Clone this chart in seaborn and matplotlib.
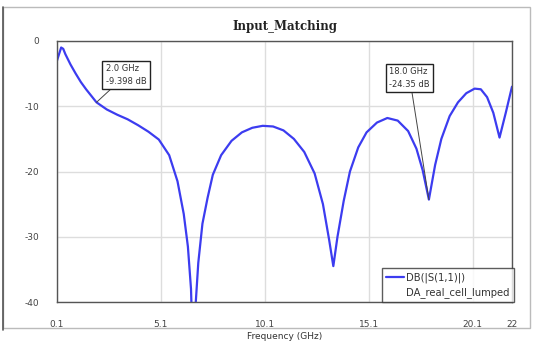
import numpy as np
import pandas as pd
import matplotlib
matplotlib.use("Agg")
import matplotlib.pyplot as plt
import seaborn as sns
from matplotlib.lines import Line2D
from matplotlib.patches import Rectangle

# ---- data ----
freq_ghz = [0.1, 0.2, 0.3, 0.4, 0.5, 0.75, 1.0, 1.25, 1.5, 1.75, 2.0, 2.5, 3.0, 3.5,
            4.0, 4.5, 5.0, 5.5, 5.9, 6.2, 6.4, 6.55, 6.66, 6.78, 6.9, 7.1, 7.35, 7.6,
            8.0, 8.5, 9.0, 9.5, 10.0, 10.5, 11.0, 11.5, 12.0, 12.5, 12.9, 13.2, 13.4,
            13.6, 13.9, 14.2, 14.6, 15.0, 15.5, 16.0, 16.5, 17.0, 17.4, 17.7, 18.0,
            18.3, 18.6, 19.0, 19.4, 19.8, 20.2, 20.5, 20.8, 21.1, 21.4, 21.7, 22.0]
s11_db = [-3.0, -2.0, -1.0, -1.2, -2.0, -3.6, -5.0, -6.3, -7.4, -8.4, -9.4, -10.5,
          -11.3, -12.0, -12.9, -13.9, -15.1, -17.5, -21.5, -26.5, -31.5, -38.0, -50.0,
          -40.0, -34.0, -28.0, -24.0, -20.5, -17.5, -15.3, -14.0, -13.3, -13.0, -13.1,
          -13.7, -15.0, -17.0, -20.3, -25.0, -30.5, -34.5, -30.0, -24.5, -20.0, -16.3,
          -14.0, -12.5, -11.8, -12.2, -13.8, -16.5, -19.8, -24.3, -19.0, -15.0, -11.5,
          -9.4, -8.0, -7.3, -7.4, -8.6, -11.0, -14.8, -11.0, -7.0]

x_ticks = [0.1, 5.1, 10.1, 15.1, 20.1, 22]
x_tick_labels = ["0.1", "5.1", "10.1", "15.1", "20.1", "22"]
y_ticks = [0, -10, -20, -30, -40]
y_tick_labels = ["0", "-10", "-20", "-30", "-40"]

marker_freq = [2.0, 18.0]
marker_db = [-9.4, -24.3]
marker_text = ["2.0 GHz\n-9.398 dB", "18.0 GHz\n-24.35 dB"]

series_label = "DB(|S(1,1)|)"
dataset_label = "DA_real_cell_lumped"
title = "Input_Matching"
xlabel = "Frequency (GHz)"

df = pd.DataFrame({"freq": freq_ghz, "db": s11_db})

sns.set_style("white")
plt.rcParams["font.family"] = ["DejaVu Sans"]

W, H = 547, 354
fig = plt.figure(figsize=(W / 100, H / 100), dpi=100)
ax = fig.add_axes([57 / W, 1 - 302 / H, (512 - 57) / W, (302 - 41) / H])

line_color = "#3c3cf0"
sns.lineplot(data=df, x="freq", y="db", ax=ax, color=line_color, linewidth=1.6,
             sort=False, legend=False)

ax.set_xlim(0.1, 22)
ax.set_ylim(-40, 0)
ax.set_xticks(x_ticks)
ax.set_xticklabels(x_tick_labels)
ax.set_yticks(y_ticks)
ax.set_yticklabels(y_tick_labels)
ax.tick_params(axis="both", length=0, labelsize=6.5, labelcolor="#444444")
ax.tick_params(axis="x", pad=13)
ax.tick_params(axis="y", pad=13)
ax.grid(True, color="#dddddd", linewidth=1.0)
ax.set_axisbelow(True)
for sp in ax.spines.values():
    sp.set_color("#555555")
    sp.set_linewidth(1.0)

ax.set_xlabel(xlabel, fontsize=6.5, color="#333333", labelpad=2)
ax.set_ylabel("")
ax.set_title(title, fontsize=8.5, fontweight="bold", family="DejaVu Serif",
             color="#222222", pad=8)

# markers / annotations
text_pos = [(2.45, -5.2), (16.1, -5.7)]
for (mf, md, mt, tp) in zip(marker_freq, marker_db, marker_text, text_pos):
    ax.annotate(mt, xy=(mf, md), xytext=tp, fontsize=6, color="#333333",
                ha="left", va="center", linespacing=1.5,
                bbox=dict(boxstyle="square,pad=0.4", fc="white", ec="#222222", lw=1.0),
                arrowprops=dict(arrowstyle="-", color="#444444", lw=0.7,
                                shrinkA=0, shrinkB=0))

# legend
handles = [Line2D([], [], color=line_color, lw=1.6),
           Line2D([], [], color="none")]
leg = ax.legend(handles, [series_label, dataset_label], loc="lower right",
                bbox_to_anchor=(1.005, 0.0), fontsize=7.2, frameon=True, fancybox=False,
                handlelength=1.8, handletextpad=0.2, borderpad=0.45, labelspacing=0.35,
                borderaxespad=0.0)
leg.get_frame().set_edgecolor("#333333")
leg.get_frame().set_linewidth(1.0)
for t in leg.get_texts():
    t.set_color("#333333")

# outer frame of the figure
fig.patches.append(Rectangle((3 / W, 1 - 328 / H), (530 - 3) / W, (328 - 7) / H,
                             transform=fig.transFigure, fill=False,
                             ec="#bbbbbb", lw=1.0))
fig.lines.append(Line2D([3 / W, 3 / W], [1 - 330 / H, 1 - 7 / H],
                        transform=fig.transFigure, color="#555555", lw=1.2))

fig.savefig("out.png", dpi=100)
